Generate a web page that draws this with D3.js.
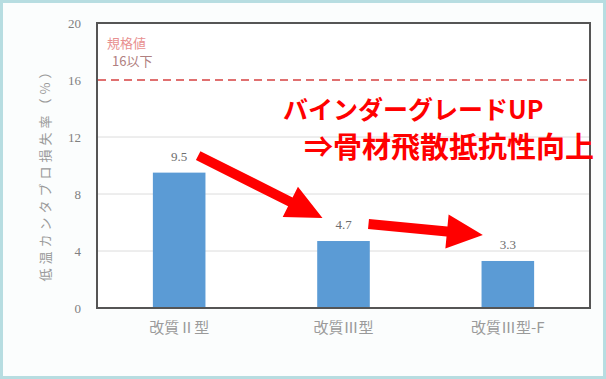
<!DOCTYPE html>
<html>
<head>
<meta charset="utf-8">
<script src="https://cdn.jsdelivr.net/npm/d3@7"></script>
<style>
  html, body { margin: 0; padding: 0; background: #ffffff; }
  svg { display: block; }
</style>
</head>
<body>
<svg id="chart" width="606" height="379"></svg>
<script>
// Chart data
const categories = ["改質Ⅱ型", "改質Ⅲ型", "改質Ⅲ型-F"];
const lossRates = [9.5, 4.7, 3.3];
const yTicks = [0, 4, 8, 12, 16, 20];
const limitValue = 16;
const limitLabel = ["規格値", "16以下"];
const yAxisTitle = "低温カンタブロ損失率（%）";
const headline = ["バインダーグレードUP", "⇒骨材飛散抵抗性向上"];

const W = 606, H = 379;
const svg = d3.select("#chart");

// Page background with a thin teal edge
svg.append("rect").attr("x", 0).attr("y", 0).attr("width", W).attr("height", H)
  .attr("fill", "#fbfdfd");
svg.append("rect").attr("x", 1.5).attr("y", 1.5).attr("width", W - 3).attr("height", H - 3)
  .attr("fill", "none").attr("stroke", "#b7dde1").attr("stroke-width", 3);

const plot = { left: 97, right: 590, top: 23, bottom: 308 };

const x = d3.scaleBand().domain(categories)
  .range([plot.left, plot.right]).paddingInner(0.68).paddingOuter(0.34);
const y = d3.scaleLinear().domain([0, 20]).range([plot.bottom, plot.top]);

// Plot area background
svg.append("rect").attr("x", plot.left).attr("y", plot.top)
  .attr("width", plot.right - plot.left).attr("height", plot.bottom - plot.top)
  .attr("fill", "#ffffff");

// Horizontal gridlines
svg.append("g").selectAll("line")
  .data(yTicks.filter(t => t > 0 && t < 20 && t !== limitValue))
  .join("line")
  .attr("x1", plot.left).attr("x2", plot.right)
  .attr("y1", d => y(d)).attr("y2", d => y(d))
  .attr("stroke", "#dcdcdc").attr("stroke-width", 1);

// Y axis tick labels
const yAxis = d3.axisLeft(y).tickValues(yTicks).tickSize(0).tickPadding(16);
const gy = svg.append("g").attr("transform", `translate(${plot.left},0)`).call(yAxis);
gy.select(".domain").remove();
gy.selectAll("text")
  .attr("font-family", "'Liberation Serif', 'DejaVu Serif', serif")
  .attr("font-size", 13).attr("fill", "#808080");

// Y axis title
svg.append("text")
  .attr("transform", `translate(50,${(plot.top + plot.bottom) / 2 + 6}) rotate(-90)`)
  .attr("text-anchor", "middle")
  .attr("font-family", "'Noto Sans CJK JP', sans-serif")
  .attr("font-size", 13).attr("letter-spacing", 4)
  .attr("fill", "#9a9a9a")
  .text(yAxisTitle);

// Bars
svg.append("g").selectAll("rect")
  .data(lossRates)
  .join("rect")
  .attr("x", (d, i) => x(categories[i]))
  .attr("y", d => y(d))
  .attr("width", x.bandwidth())
  .attr("height", d => y(0) - y(d))
  .attr("fill", "#5b9bd5");

// Value labels
svg.append("g").selectAll("text")
  .data(lossRates)
  .join("text")
  .attr("x", (d, i) => x(categories[i]) + x.bandwidth() / 2)
  .attr("y", d => y(d) - 12)
  .attr("text-anchor", "middle")
  .attr("font-family", "'Liberation Serif', 'DejaVu Serif', serif")
  .attr("font-size", 13).attr("fill", "#6e6e6e")
  .text(d => d.toFixed(1));

// Category labels
const xAxis = d3.axisBottom(x).tickSize(0).tickPadding(14);
const gx = svg.append("g").attr("transform", `translate(0,${plot.bottom})`).call(xAxis);
gx.select(".domain").remove();
gx.selectAll("text")
  .attr("font-family", "'Noto Sans CJK JP', sans-serif")
  .attr("font-size", 15).attr("fill", "#9a9a9a");

// Limit line (dashed)
svg.append("line")
  .attr("x1", plot.left + 1).attr("x2", plot.right - 1)
  .attr("y1", y(limitValue)).attr("y2", y(limitValue))
  .attr("stroke", "#e07070").attr("stroke-width", 2)
  .attr("stroke-dasharray", "8,5");

svg.append("g").selectAll("text")
  .data(limitLabel)
  .join("text")
  .attr("x", (d, i) => plot.left + 10 + i * 5)
  .attr("y", (d, i) => y(limitValue) - 32 + i * 18)
  .attr("font-family", "'Noto Sans CJK JP', sans-serif")
  .attr("font-size", 13)
  .attr("fill", (d, i) => i === 0 ? "#e89090" : "#b08080")
  .text(d => d);

// Plot frame
svg.append("rect").attr("x", plot.left).attr("y", plot.top)
  .attr("width", plot.right - plot.left).attr("height", plot.bottom - plot.top)
  .attr("fill", "none").attr("stroke", "#555555").attr("stroke-width", 2);

// Block arrows between consecutive bars
function blockArrow(x0, y0, x1, y1, shaft, headW, headL) {
  const dx = x1 - x0, dy = y1 - y0;
  const len = Math.hypot(dx, dy);
  const ux = dx / len, uy = dy / len;
  const nx = -uy, ny = ux;
  const bx = x1 - ux * headL, by = y1 - uy * headL;
  const pts = [
    [x0 + nx * shaft / 2, y0 + ny * shaft / 2],
    [bx + nx * shaft / 2, by + ny * shaft / 2],
    [bx + nx * headW / 2, by + ny * headW / 2],
    [x1, y1],
    [bx - nx * headW / 2, by - ny * headW / 2],
    [bx - nx * shaft / 2, by - ny * shaft / 2],
    [x0 - nx * shaft / 2, y0 - ny * shaft / 2]
  ];
  return "M" + pts.map(p => p.join(",")).join("L") + "Z";
}
const arrowG = svg.append("g");
for (let i = 0; i < lossRates.length - 1; i++) {
  const cx0 = x(categories[i]) + x.bandwidth() / 2;
  const cx1 = x(categories[i + 1]) + x.bandwidth() / 2;
  const x0 = cx0 + 19 + i * 6, y0 = y(lossRates[i]) - 17;
  const x1 = cx1 - 21 - i * 4, y1 = y(lossRates[i + 1]) - 23 - i * 3;
  arrowG.append("path")
    .attr("d", blockArrow(x0, y0, x1, y1, 10, 34, 36))
    .attr("fill", "#ff0000");
}

// Headline annotation
svg.append("text").attr("x", 283).attr("y", 119)
  .attr("font-family", "'Noto Sans CJK JP', sans-serif")
  .attr("font-weight", 700).attr("font-size", 25)
  .attr("fill", "#ff0000")
  .text(headline[0]);
svg.append("text").attr("x", 304).attr("y", 158)
  .attr("font-family", "'Noto Sans CJK JP', sans-serif")
  .attr("font-weight", 700).attr("font-size", 29)
  .attr("fill", "#ff0000")
  .text(headline[1]);
</script>
</body>
</html>
